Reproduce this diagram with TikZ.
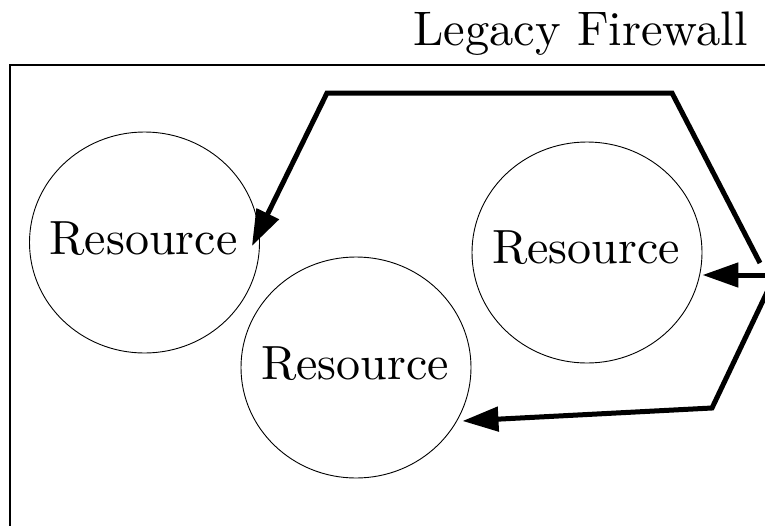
\documentclass[tikz,border=0pt]{standalone}
\usepackage{fontspec}
\newfontfamily\labelfont{lmroman10-regular}[Extension=.otf]
\usetikzlibrary{arrows.meta,shapes.geometric}
\begin{document}
\begin{tikzpicture}[x=1pt,y=-1pt,
  res/.style={ellipse, draw, line width=0.9pt, minimum width=230pt, minimum height=221pt, inner sep=0pt},
  rtext/.style={font=\labelfont\fontsize{48}{58}\selectfont, inner sep=0pt, anchor=base},
  titletext/.style={font=\labelfont\fontsize{48.5}{58}\selectfont, inner sep=0pt, anchor=base east},
  flow/.style={line width=5pt, -{Triangle[length=36pt,width=24pt]}}
]
\useasboundingbox (0,0) rectangle (765,525);
\clip (0,0) rectangle (765,525);

% firewall boundary (runs off the page to the right and bottom)
\draw[line width=1.2pt] (10,540) -- (10,65) -- (780,65);
\node[titletext] (title) at (748,45) {Legacy Firewall};

% resources
\node[res] (resA) at (144.5,242.5) {};
\node[res] (resB) at (356,367.5) {};
\node[res] (resC) at (587,252.5) {};
\node[rtext] (resAtext) at ([shift={(-1,11.5)}]resA.center) {Resource};
\node[rtext] (resBtext) at ([shift={(-1,11.5)}]resB.center) {Resource};
\node[rtext] (resCtext) at ([shift={(-1,11)}]resC.center) {Resource};

% incoming traffic
\coordinate (inA) at (760,263);
\coordinate (topR) at (672,93);
\coordinate (topL) at (327,93);
\coordinate (inC) at (775,275);
\coordinate (inB) at (769,288);
\coordinate (botR) at (712,408);

\draw[flow] (inA) -- (topR) -- (topL) -- ([shift={(-8,3.5)}]resA.east);
\draw[flow] (inC) -- ([shift={(0,22.5)}]resC.east);
\draw[flow] (inB) -- (botR) -- ([shift={(-9,53.5)}]resB.east);
\end{tikzpicture}
\end{document}
